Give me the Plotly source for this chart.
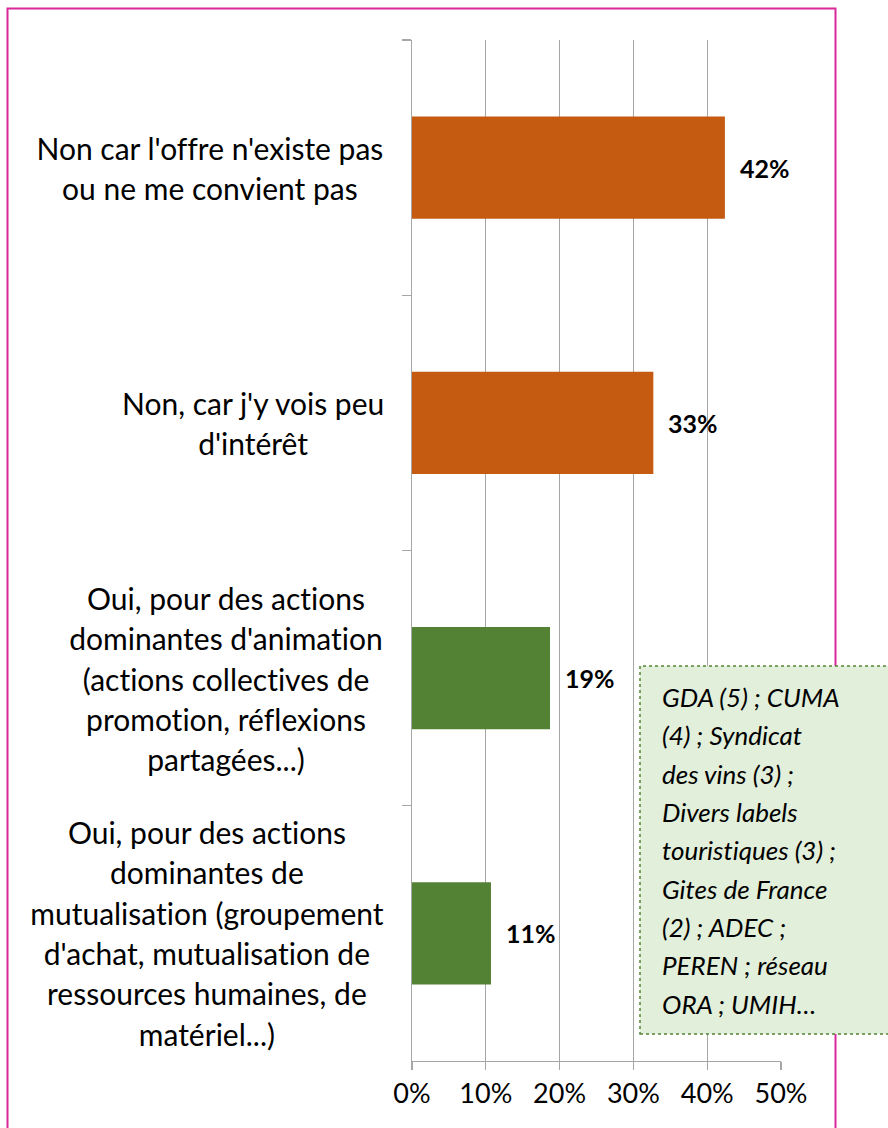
import plotly.graph_objects as go

categories = [
    "Non car l'offre n'existe pas<br>ou ne me convient pas",
    "Non, car j'y vois peu<br>d'intérêt",
    "Oui, pour des actions<br>dominantes d'animation<br>(actions collectives de<br>promotion, réflexions<br>partagées...)",
    "Oui, pour des actions<br>dominantes de<br>mutualisation (groupement<br>d'achat, mutualisation de<br>ressources humaines, de<br>matériel...)",
]
values = [0.424, 0.327, 0.187, 0.107]
bar_colors = ["#C55A11", "#C55A11", "#548235", "#548235"]
x_ticks = [0, 0.1, 0.2, 0.3, 0.4, 0.5]
x_ticklabels = ["0%", "10%", "20%", "30%", "40%", "50%"]
box_lines = [
    "GDA (5) ; CUMA", "(4) ; Syndicat", "des vins (3) ;", "Divers labels",
    "touristiques (3) ;", "Gites de France", "(2) ; ADEC ;", "PEREN ; réseau", "ORA ; UMIH…",
]

W, H = 888, 1128
L, R, T, B = 412, 781, 40, 1061
pw, ph = R - L, B - T

def px_x(x):
    return (x - L) / pw

def px_y(y):
    return (B - y) / ph

FONT = "Lato"
fig = go.Figure()
fig.add_trace(go.Bar(
    y=categories, x=values, orientation="h",
    marker=dict(color=bar_colors, line=dict(width=0)),
    hoverinfo="skip",
))

# data labels
for c, v in zip(categories, values):
    fig.add_annotation(
        x=v, y=c, xref="x", yref="y", text="<b>%d%%</b>" % round(v * 100),
        showarrow=False, xanchor="left", xshift=13,
        font=dict(family=FONT, size=25, color="#000000"),
    )

# category labels (centered multi-line)
label_cx = [210, 253, 226, 207]
for c, cx in zip(categories, label_cx):
    inner = "<br>".join('<span style="font-size:30px">%s</span>' % s for s in c.split("<br>"))
    fig.add_annotation(
        x=px_x(cx), y=c, xref="paper", yref="y", text=inner,
        showarrow=False, xanchor="center", yanchor="middle", align="center",
        font=dict(family=FONT, size=31, color="#000000"),
    )

# green note box
fig.add_shape(type="rect", xref="paper", yref="paper",
              x0=px_x(640), x1=px_x(900), y0=px_y(1034), y1=px_y(666),
              fillcolor="#E2EFDA", line=dict(color="#548235", width=1.5, dash="dot"),
              layer="above")
box_text = "<br>".join('<span style="font-size:26px">%s</span>' % s for s in box_lines)
fig.add_annotation(
    x=px_x(660), y=px_y(850), xref="paper", yref="paper", text="<i>" + box_text + "</i>",
    showarrow=False, xanchor="left", yanchor="middle", align="left",
    font=dict(family=FONT, size=29.5, color="#000000"),
)

# pink frame
fig.add_shape(type="rect", xref="paper", yref="paper",
              x0=px_x(7.5), x1=px_x(835.5), y0=px_y(1140), y1=px_y(8.5),
              line=dict(color="#D9289C", width=2), fillcolor="rgba(0,0,0,0)", layer="below")

fig.update_layout(
    width=W, height=H,
    margin=dict(l=L, r=W - R, t=T, b=H - B, pad=0),
    paper_bgcolor="white", plot_bgcolor="white",
    showlegend=False, bargap=0.6,
    font=dict(family=FONT, color="#000000"),
)
fig.update_xaxes(
    range=[0, 0.5], tickvals=x_ticks, ticktext=x_ticklabels,
    showgrid=True, gridcolor="#A6A6A6", gridwidth=1.3,
    showline=True, linecolor="#A6A6A6", linewidth=1.3,
    ticks="outside", ticklen=8, tickcolor="#A6A6A6", tickwidth=1.3,
    tickfont=dict(family=FONT, size=27, color="#000000"),
    zeroline=False, fixedrange=True,
)
fig.update_yaxes(
    categoryorder="array", categoryarray=categories, autorange="reversed",
    showticklabels=False, showgrid=False,
    showline=True, linecolor="#A6A6A6", linewidth=1.3,
    ticks="outside", ticklen=9, tickcolor="#A6A6A6", tickwidth=1.3,
    tickson="boundaries", fixedrange=True,
)

post = (
    "document.body.style.margin='0';document.body.style.overflow='hidden';"
    "var s=document.createElement('style');"
    "s.textContent='svg text{font-variant-ligatures:none;font-feature-settings:\"liga\" 0;}';"
    "document.head.appendChild(s);"
)
fig.write_html("out.html", config={"displayModeBar": False, "staticPlot": True}, post_script=post)
